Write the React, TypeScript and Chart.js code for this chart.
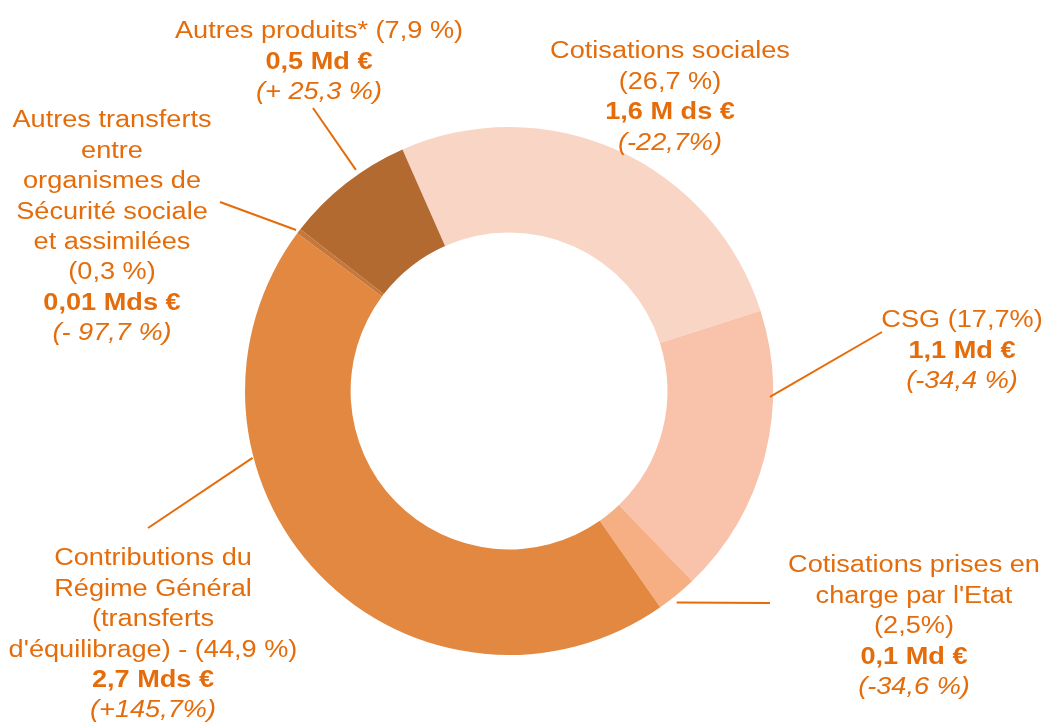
import React, { useEffect, useRef } from "react";
import { Chart, registerables } from "chart.js";

Chart.register(...registerables);

// ---- Data ----
const categories = [
  "Cotisations sociales",
  "CSG",
  "Cotisations prises en charge par l'Etat",
  "Contributions du Régime Général (transferts d'équilibrage)",
  "Autres transferts entre organismes de Sécurité sociale et assimilées",
  "Autres produits*",
];
const shares = [26.7, 17.7, 2.5, 44.9, 0.3, 7.9];
const shareLabels = ["(26,7 %)", "(17,7%)", "(2,5%)", "(44,9 %)", "(0,3 %)", "(7,9 %)"];
const amountLabels = ["1,6 M ds €", "1,1 Md €", "0,1 Md €", "2,7 Mds €", "0,01 Mds €", "0,5 Md €"];
const changeLabels = ["(-22,7%)", "(-34,4 %)", "(-34,6 %)", "(+145,7%)", "(- 97,7 %)", "(+ 25,3 %)"];

// ---- Layout / style ----
const sliceColors = ["#F9D5C5", "#F8C3AA", "#F6AE83", "#E28840", "#C8773A", "#B26A30"];
const textColor = "#E46C0A";
const FONT_SIZE = 23;
const X_STRETCH = 1.18;
const LINE_H = 30.4;

// name lines per category (wrapping as in the original)
const nameLines: string[][] = [
  ["Cotisations sociales", shareLabels[0]],
  ["CSG " + shareLabels[1]],
  ["Cotisations prises en", "charge par l'Etat", shareLabels[2]],
  ["Contributions du", "Régime Général", "(transferts", "d'équilibrage) - " + shareLabels[3]],
  ["Autres transferts", "entre", "organismes de", "Sécurité sociale", "et assimilées", shareLabels[4]],
  ["Autres produits* " + shareLabels[5]],
];
// label block anchor: center x, first line y
const labelPos: [number, number][] = [
  [670, 51],
  [962, 320],
  [914, 565],
  [153, 558],
  [112, 120],
  [319, 31],
];
// leader: angle (deg clockwise from top) at arc, radial extra, outer x, outer y
const leaders: [number, number, number, number][] = [
  [NaN, 0, 0, 0],
  [91.3, -3, 882, 332],
  [141.6, 6, 770, 603],
  [255.4, 1, 148, 528],
  [307.1, 3, 220, 202],
  [325.3, 5, 313, 108],
];

const labelPlugin = {
  id: "outerLabels",
  afterDraw(chart: any) {
    const ctx = chart.ctx;
    const meta = chart.getDatasetMeta(0);
    const arc = meta.data[0];
    const cx = arc.x;
    const cy = arc.y;
    const R = arc.outerRadius;
    ctx.save();
    // leaders
    ctx.strokeStyle = textColor;
    ctx.lineWidth = 2;
    leaders.forEach((l) => {
      if (isNaN(l[0])) return;
      const a = (l[0] * Math.PI) / 180;
      const r = R + l[1];
      const x1 = cx + r * Math.sin(a);
      const y1 = cy - r * Math.cos(a);
      ctx.beginPath();
      ctx.moveTo(l[2], l[3]);
      ctx.lineTo(x1, y1);
      ctx.stroke();
    });
    // labels
    ctx.fillStyle = textColor;
    ctx.textAlign = "center";
    ctx.textBaseline = "middle";
    const fam = "'Liberation Sans', Arial, sans-serif";
    categories.forEach((_, i) => {
      const lines: { t: string; f: string }[] = [];
      nameLines[i].forEach((t) => lines.push({ t, f: `${FONT_SIZE}px ${fam}` }));
      lines.push({ t: amountLabels[i], f: `bold ${FONT_SIZE}px ${fam}` });
      lines.push({ t: changeLabels[i], f: `italic ${FONT_SIZE}px ${fam}` });
      const [lx, ly] = labelPos[i];
      lines.forEach((ln, k) => {
        ctx.save();
        ctx.translate(lx, ly + k * LINE_H);
        ctx.scale(X_STRETCH, 1);
        ctx.font = ln.f;
        ctx.fillText(ln.t, 0, 1);
        ctx.restore();
      });
    });
    ctx.restore();
  },
};

export default function App() {
  const ref = useRef<HTMLCanvasElement | null>(null);
  useEffect(() => {
    document.body.style.margin = "0";
    const canvas = ref.current!;
    const chart = new Chart(canvas, {
      type: "doughnut",
      data: {
        labels: categories,
        datasets: [
          {
            data: shares,
            backgroundColor: sliceColors,
            borderWidth: 0,
          },
        ],
      },
      options: {
        animation: false,
        responsive: false,
        cutout: "60%",
        rotation: -23.8,
        layout: { padding: { top: 127, bottom: 67, left: 245, right: 273 } },
        plugins: {
          legend: { display: false },
          tooltip: { enabled: false },
        },
      },
      plugins: [labelPlugin],
    });
    return () => chart.destroy();
  }, []);
  return (
    <div style={{ width: 1046, height: 722, background: "#fff" }}>
      <canvas ref={ref} width={1046} height={722} style={{ display: "block" }} />
    </div>
  );
}
